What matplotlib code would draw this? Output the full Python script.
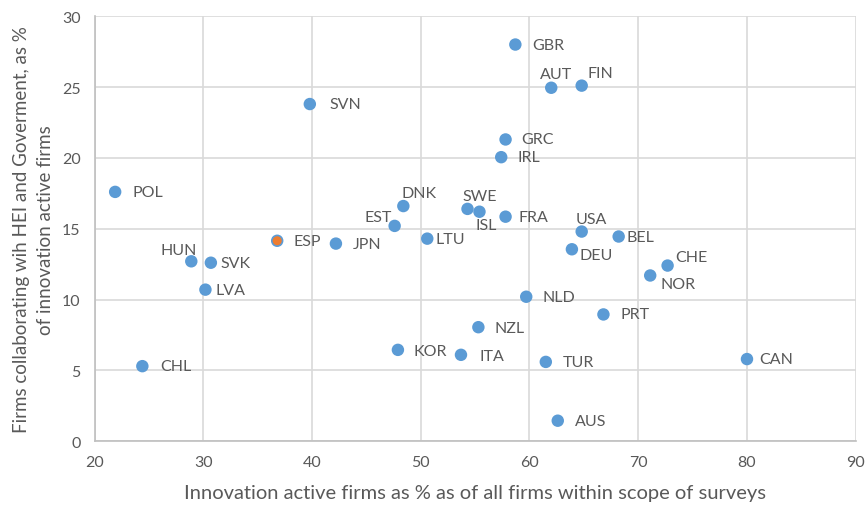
import matplotlib.pyplot as plt

plt.rcParams['font.family'] = ['Lato', 'DejaVu Sans']

paises = ['GBR', 'AUT', 'FIN', 'SVN', 'GRC', 'IRL', 'POL', 'DNK', 'SWE', 'ISL',
          'FRA', 'EST', 'USA', 'BEL', 'ESP', 'JPN', 'LTU', 'DEU', 'HUN', 'SVK',
          'CHE', 'NOR', 'LVA', 'NLD', 'PRT', 'NZL', 'KOR', 'ITA', 'CAN', 'TUR',
          'CHL', 'AUS']
x_inov = [58.7, 62.0, 64.8, 39.8, 57.8, 57.4, 21.9, 48.4, 54.3, 55.4,
          57.8, 47.6, 64.8, 68.2, 36.8, 42.2, 50.6, 63.9, 28.9, 30.7,
          72.7, 71.1, 30.2, 59.7, 66.8, 55.3, 47.9, 53.7, 80.0, 61.5,
          24.4, 62.6]
y_colab = [28.0, 24.95, 25.1, 23.8, 21.3, 20.05, 17.6, 16.6, 16.4, 16.2,
           15.85, 15.2, 14.8, 14.45, 14.15, 13.95, 14.3, 13.55, 12.7, 12.6,
           12.4, 11.7, 10.7, 10.2, 8.95, 8.05, 6.45, 6.1, 5.8, 5.6,
           5.3, 1.45]

# posicao dos rotulos (pixels) e alinhamento
rotulos = {
    'GBR': (17, 0, 'left'), 'AUT': (5, 14, 'center'), 'FIN': (6, 13, 'left'),
    'SVN': (20, 0, 'left'), 'GRC': (16, 0, 'left'), 'IRL': (16, 0, 'left'),
    'POL': (17, 0, 'left'), 'DNK': (16, 13, 'center'), 'SWE': (12, 13, 'center'),
    'ISL': (7, -13, 'center'), 'FRA': (13, 0, 'left'), 'EST': (-16, 9, 'center'),
    'USA': (10, 13, 'center'), 'BEL': (8, 0, 'left'), 'ESP': (16, 0, 'left'),
    'JPN': (17, 0, 'left'), 'LTU': (8, 0, 'left'), 'DEU': (8, -6, 'left'),
    'HUN': (-13, 11, 'center'), 'SVK': (10, 0, 'left'), 'CHE': (8, 9, 'left'),
    'NOR': (10, -9, 'left'), 'LVA': (10, 0, 'left'), 'NLD': (16, 0, 'left'),
    'PRT': (17, 0, 'left'), 'NZL': (16, -1, 'left'), 'KOR': (16, -1, 'left'),
    'ITA': (19, -1, 'left'), 'CAN': (12, 0, 'left'), 'TUR': (17, 0, 'left'),
    'CHL': (18, 0, 'left'), 'AUS': (17, 0, 'left'),
}

azul = '#5B9BD5'
laranja = '#ED7D31'
cinza = '#595959'

fig = plt.figure(figsize=(8.67, 5.06), dpi=100)
ax = fig.add_axes([0.109, 0.126, 0.878, 0.840])

cores = [laranja if p == 'ESP' else azul for p in paises]
ax.scatter(x_inov, y_colab, s=60, c=cores, edgecolors=azul, linewidths=1.2, zorder=3)

for p, xv, yv in zip(paises, x_inov, y_colab):
    dx, dy, ha = rotulos[p]
    ax.annotate(p, (xv, yv), xytext=(dx * 0.72, dy * 0.72), textcoords='offset points',
                ha=ha, va='center', fontsize=11.5, color=cinza)

ax.set_xlim(20, 90)
ax.set_ylim(0, 30)
ax.set_xticks(range(20, 91, 10))
ax.set_yticks(range(0, 31, 5))
ax.grid(color='#D9D9D9', linewidth=1.2)
ax.set_axisbelow(True)
for s in ['top', 'right']:
    ax.spines[s].set_visible(False)
for s in ['left', 'bottom']:
    ax.spines[s].set_color('#BFBFBF')
    ax.spines[s].set_linewidth(1.2)
ax.tick_params(length=0, labelsize=11.5, colors=cinza, pad=10)

ax.set_xlabel('Innovation active firms as % as of all firms within scope of surveys',
              fontsize=14.5, color=cinza, labelpad=11)
ax.set_ylabel('Firms collaborating wih HEI and Goverment, as %\nof innovation active firms',
              fontsize=13.5, color=cinza, labelpad=6, linespacing=1.45)

fig.savefig('out.png', dpi=100)
